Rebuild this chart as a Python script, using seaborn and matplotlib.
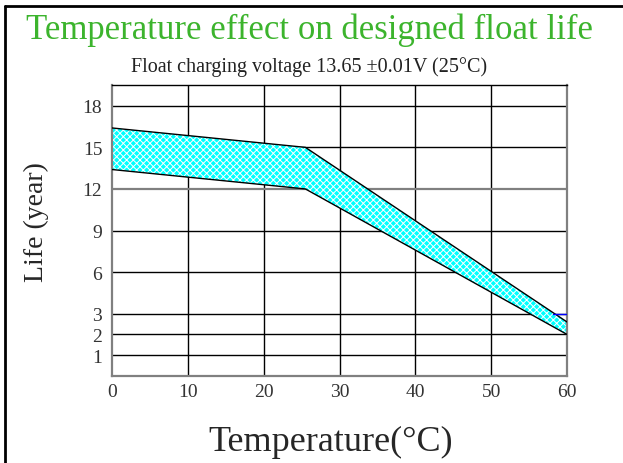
import numpy as np
import pandas as pd
import matplotlib
matplotlib.use('Agg')
import matplotlib.pyplot as plt
from matplotlib.lines import Line2D
import seaborn as sns

# values
temp = [0, 25.5, 60]
life_upper = [16.4, 15.0, 2.6]
life_lower = [13.4, 12.0, 2.0]

x_ticks = [0, 10, 20, 30, 40, 50, 60]
y_ticks = [1, 2, 3, 6, 9, 12, 15, 18]

# little blue stub on the 3-year line near 60 C
stub_x = [58.2, 60]
stub_y = [3, 3]

title = "Temperature effect on designed float life"
subtitle = "Float charging voltage 13.65 \u00b10.01V (25\u00b0C)"


# y axis is stretched below 3 years (piecewise linear)
def fwd(y):
    y = np.asarray(y, dtype=float)
    return np.where(y <= 3, 1.5 * y, y + 1.5)


def inv(v):
    v = np.asarray(v, dtype=float)
    return np.where(v <= 4.5, v / 1.5, v - 1.5)


sns.set_style("white")
plt.rcParams['font.family'] = ['Liberation Serif', 'DejaVu Serif']
plt.rcParams['hatch.color'] = 'white'
plt.rcParams['hatch.linewidth'] = 0.7

fig = plt.figure(figsize=(6.23, 4.64), dpi=100)
ax = fig.add_axes([112 / 623, 87 / 464, 455 / 623, 291 / 464])
ax.set_yscale('function', functions=(fwd, inv))

df = pd.DataFrame({"temp": temp, "upper": life_upper, "lower": life_lower})

# band
ax.fill_between(df["temp"], df["lower"], df["upper"], facecolor='#00ffff',
                edgecolor='white', hatch='xxxxx', linewidth=0, zorder=2)
sns.lineplot(data=df, x="temp", y="upper", color='black', linewidth=1.0, ax=ax, zorder=3)
sns.lineplot(data=df, x="temp", y="lower", color='black', linewidth=1.0, ax=ax, zorder=3)
ax.plot(stub_x, stub_y, color='blue', linewidth=1.0, zorder=3)

# grid
for xv in x_ticks[1:-1]:
    ax.axvline(xv, color='black', linewidth=1.0, zorder=1)
for yv in y_ticks:
    c = '#808080' if yv == 12 else 'black'
    lw = 1.6 if yv == 12 else 1.0
    ax.axhline(yv, color=c, linewidth=lw, zorder=1)

ax.set_xlim(0, 60)
ax.set_ylim(0, 19.5)
ax.set_xticks(x_ticks)
ax.set_yticks(y_ticks)
ax.set_xticklabels([str(v) for v in x_ticks], fontsize=14, color='#333333')
ax.set_yticklabels([str(v) for v in y_ticks], fontsize=14, color='#333333')
ax.yaxis.set_minor_locator(matplotlib.ticker.NullLocator())
ax.tick_params(axis='both', length=0)
ax.tick_params(axis='y', pad=7)
ax.tick_params(axis='x', pad=5)

for side in ['left', 'bottom', 'right']:
    ax.spines[side].set_color('#808080')
    ax.spines[side].set_linewidth(1.6)
ax.spines['top'].set_color('black')
ax.spines['top'].set_linewidth(1.0)

ax.set_xlabel("Temperature(\u00b0C)", fontsize=26)
ax.xaxis.set_label_coords((331 - 112) / 455, -0.225)
ax.xaxis.label.set_va('center')
ax.set_ylabel("Life (year)", fontsize=20)
ax.yaxis.set_label_coords(-(112 - 36) / 455, (377 - 222) / 291)
ax.yaxis.label.set_va('center')

fig.text(310 / 623, 1 - 30 / 464, title, fontsize=25, color='#3cb42d',
         ha='center', va='center')
fig.text(309 / 623, 1 - 67 / 464, subtitle, fontsize=14.5, color='#222222',
         ha='center', va='center')

# frame on the left and top edges
fig.add_artist(Line2D([5 / 623, 5 / 623], [0, 1 - 7 / 464], transform=fig.transFigure,
                      color='black', linewidth=2))
fig.add_artist(Line2D([5 / 623, 1], [1 - 7 / 464, 1 - 7 / 464], transform=fig.transFigure,
                      color='black', linewidth=2))

fig.savefig("out.png", dpi=100)
